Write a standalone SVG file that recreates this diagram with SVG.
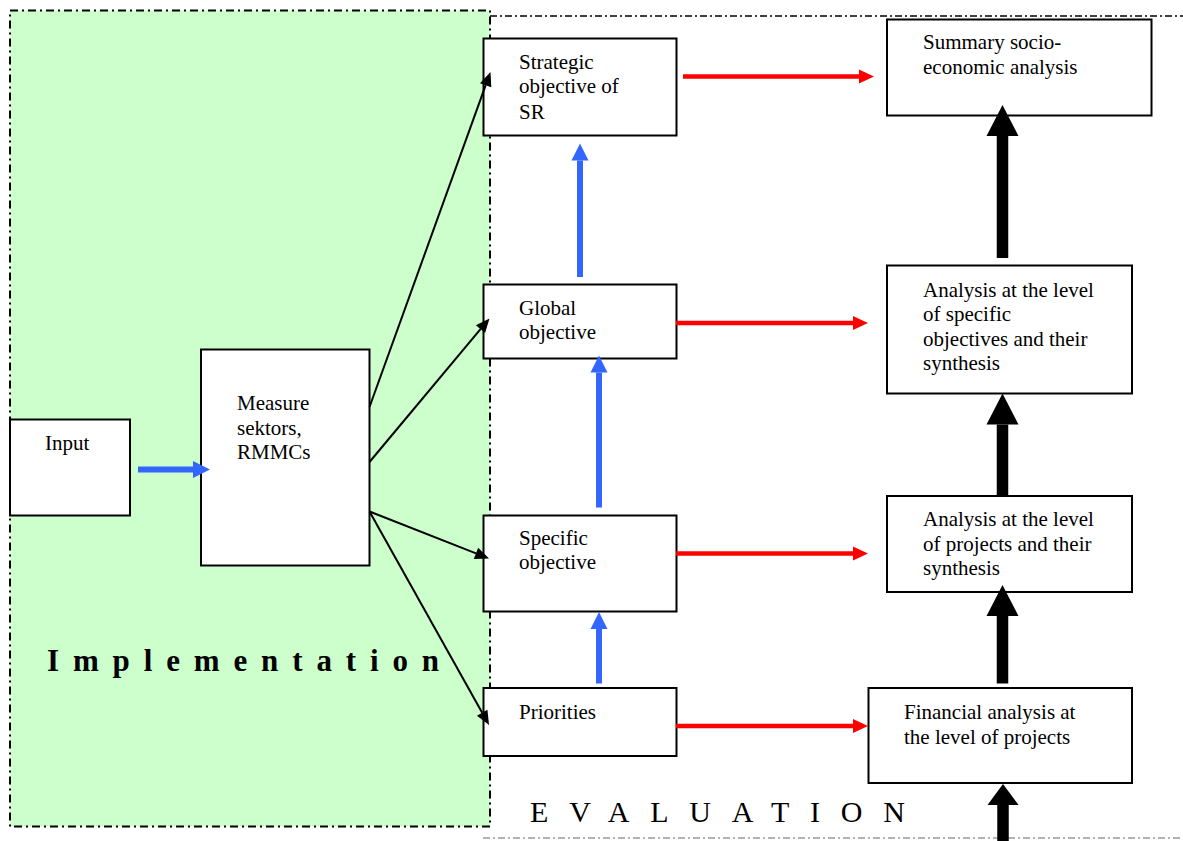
<svg xmlns="http://www.w3.org/2000/svg" width="1183" height="841" viewBox="0 0 1183 841">
<defs>
<style>
.box{fill:#fff;stroke:#000;stroke-width:2}
.t{font-family:"Liberation Serif","Times New Roman",serif;font-size:21px;fill:#000}
.red{stroke:#f00;stroke-width:4.5;fill:none}
.blue{stroke:#3366ff;stroke-width:6;fill:none}
.thin{stroke:#000;stroke-width:2;fill:none}
.thick{stroke:#000;stroke-width:11.5;fill:none}
</style>
<marker id="mRed" markerUnits="userSpaceOnUse" markerWidth="20" markerHeight="20" refX="0" refY="8" orient="auto" overflow="visible"><path d="M0,1 L15,8 L0,15 Z" fill="#f00"/></marker>
<marker id="mBlue" markerUnits="userSpaceOnUse" markerWidth="20" markerHeight="20" refX="0" refY="9" orient="auto" overflow="visible"><path d="M0,0.5 L17,9 L0,17.5 Z" fill="#3366ff"/></marker>
<marker id="mThin" markerUnits="userSpaceOnUse" markerWidth="16" markerHeight="14" refX="0" refY="6" orient="auto" overflow="visible"><path d="M0,0 L14,6 L0,12 Z" fill="#000"/></marker>
<marker id="mThick" markerUnits="userSpaceOnUse" markerWidth="34" markerHeight="34" refX="0" refY="16" orient="auto" overflow="visible"><path d="M0,0 L31,16 L0,32 Z" fill="#000"/></marker>
<marker id="mThickShort" markerUnits="userSpaceOnUse" markerWidth="34" markerHeight="34" refX="0" refY="16" orient="auto" overflow="visible"><path d="M0,0.5 L21,16 L0,31.5 Z" fill="#000"/></marker>
</defs>
<rect width="1183" height="841" fill="#fff"/>
<g id="evaluation-region">
<line x1="490" y1="16" x2="1183" y2="16" stroke="#000" stroke-width="1.5" stroke-dasharray="7,3,2,3"/>
<line x1="483" y1="838" x2="1183" y2="838" stroke="#999" stroke-width="1.5" stroke-dasharray="7,3,2,3"/>
<text class="t" x="530" y="822" style="font-size:30px" textLength="375" lengthAdjust="spacing">EVALUATION</text>
</g>
<g id="implementation-region">
<rect x="10" y="10.5" width="480" height="816" fill="#ccffcc" stroke="#000" stroke-width="2" stroke-dasharray="8,4,2,4"/>
<text class="t" x="47" y="671" style="font-size:31px;font-weight:bold" textLength="392" lengthAdjust="spacing">Implementation</text>
</g>
<g id="input"><rect class="box" x="10" y="419.5" width="120" height="96"/><text class="t" x="45" y="450">Input</text></g>
<g id="measure"><rect class="box" x="201" y="349.5" width="168.5" height="216"/><text class="t" x="237"><tspan x="237" y="410">Measure</tspan><tspan x="237" y="435">sektors,</tspan><tspan x="237" y="459">RMMCs</tspan></text></g>
<g id="strategic"><rect class="box" x="483.5" y="38.5" width="193" height="97"/><text class="t"><tspan x="519" y="69">Strategic</tspan><tspan x="519" y="93">objective of</tspan><tspan x="519" y="119">SR</tspan></text></g>
<g id="global"><rect class="box" x="483.5" y="284.5" width="193" height="74"/><text class="t"><tspan x="519" y="315">Global</tspan><tspan x="519" y="339">objective</tspan></text></g>
<g id="specific"><rect class="box" x="483.5" y="515.5" width="193" height="96"/><text class="t"><tspan x="519" y="545">Specific</tspan><tspan x="519" y="569">objective</tspan></text></g>
<g id="priorities"><rect class="box" x="483.5" y="688" width="193" height="68"/><text class="t" x="519" y="719">Priorities</text></g>
<g id="summary"><rect class="box" x="887" y="19.5" width="264.5" height="96"/><text class="t"><tspan x="923" y="49">Summary socio-</tspan><tspan x="923" y="74">economic analysis</tspan></text></g>
<g id="analysis-specific"><rect class="box" x="887" y="265.5" width="245" height="128"/><text class="t"><tspan x="923" y="297">Analysis at the level</tspan><tspan x="923" y="321">of specific</tspan><tspan x="923" y="346">objectives and their</tspan><tspan x="923" y="370">synthesis</tspan></text></g>
<g id="analysis-projects"><rect class="box" x="887" y="496" width="245" height="96"/><text class="t"><tspan x="923" y="526">Analysis at the level</tspan><tspan x="923" y="551">of projects and their</tspan><tspan x="923" y="575">synthesis</tspan></text></g>
<g id="financial"><rect class="box" x="868.5" y="688" width="263.5" height="95"/><text class="t"><tspan x="904" y="719">Financial analysis at</tspan><tspan x="904" y="744">the level of projects</tspan></text></g>
<g id="connectors">
<line class="blue" x1="138" y1="469.5" x2="193" y2="469.5" marker-end="url(#mBlue)"/>
<line class="thin" x1="369.5" y1="407" x2="485.7" y2="85.2" marker-end="url(#mThin)"/>
<line class="thin" x1="369.5" y1="462" x2="480.5" y2="329.2" marker-end="url(#mThin)"/>
<line class="thin" x1="369.5" y1="511.5" x2="476" y2="553.4" marker-end="url(#mThin)"/>
<line class="thin" x1="369.5" y1="511.5" x2="482.2" y2="712.8" marker-end="url(#mThin)"/>
<line class="blue" x1="580" y1="277" x2="580" y2="160.5" marker-end="url(#mBlue)"/>
<line class="blue" x1="599" y1="507.5" x2="599" y2="372.5" marker-end="url(#mBlue)"/>
<line class="blue" x1="599" y1="683.5" x2="599" y2="629" marker-end="url(#mBlue)"/>
<line class="red" x1="683" y1="76.5" x2="859" y2="76.5" marker-end="url(#mRed)"/>
<line class="red" x1="676" y1="323" x2="853" y2="323" marker-end="url(#mRed)"/>
<line class="red" x1="676" y1="553.5" x2="853" y2="553.5" marker-end="url(#mRed)"/>
<line class="red" x1="676" y1="726" x2="853" y2="726" marker-end="url(#mRed)"/>
<line class="thick" x1="1002.5" y1="258" x2="1002.5" y2="136" marker-end="url(#mThick)"/>
<line class="thick" x1="1002.5" y1="495" x2="1002.5" y2="424.5" marker-end="url(#mThick)"/>
<line class="thick" x1="1002.5" y1="683.5" x2="1002.5" y2="616" marker-end="url(#mThick)"/>
<line class="thick" x1="1003" y1="841" x2="1003" y2="805" marker-end="url(#mThickShort)"/>
</g>
</svg>
